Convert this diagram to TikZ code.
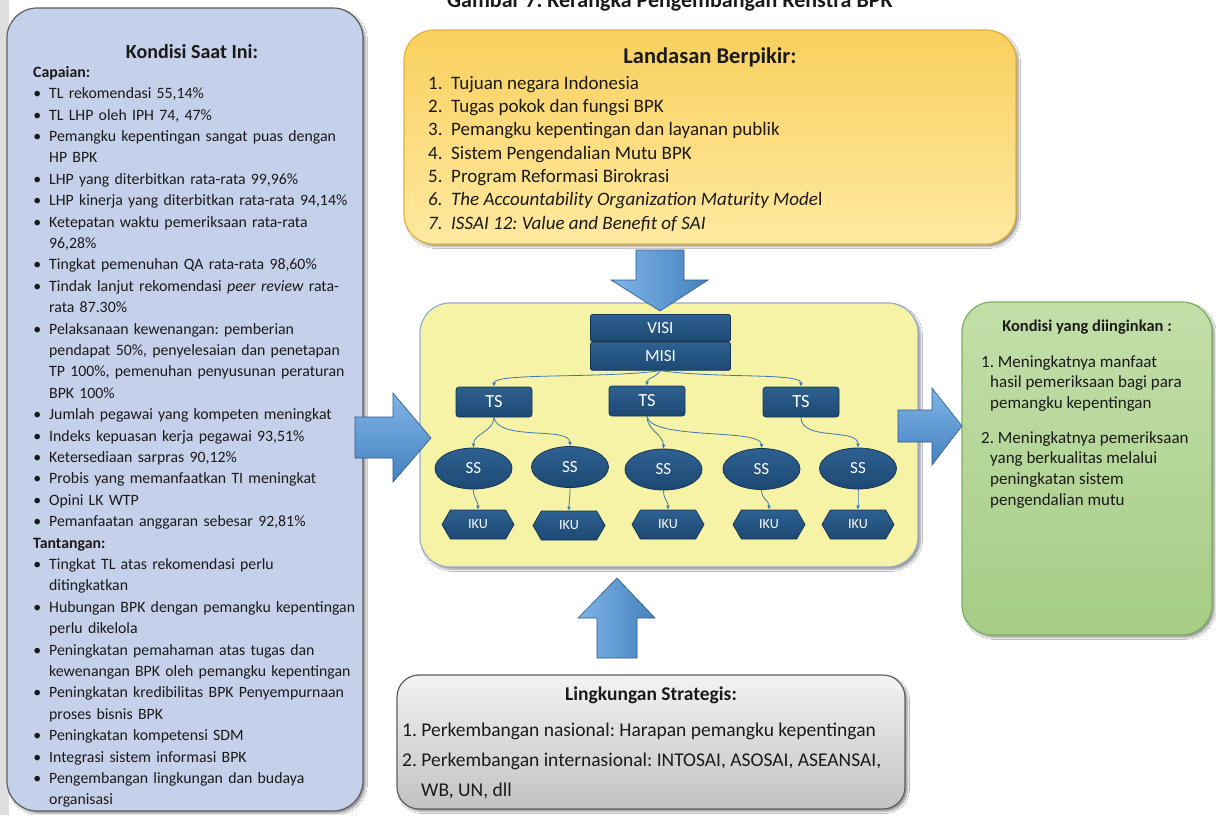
\documentclass[tikz,border=0pt]{standalone}
\usepackage{fontspec}
\setmainfont{Carlito}
\usepackage{xcolor}
\usepackage{tikz}
\usetikzlibrary{positioning,arrows.meta,calc,shapes.geometric,shapes.symbols,shadows.blur}
\frenchspacing
\definecolor{BPKnavy}{HTML}{1D4873}
\definecolor{BPKnavyLight}{HTML}{2E6191}
\definecolor{BPKnavyDark}{HTML}{143654}
\definecolor{BPKlink}{HTML}{3C78B4}
\definecolor{BPKarrow}{HTML}{4682C0}
\definecolor{BPKarrowLight}{HTML}{7EB3E6}
\definecolor{BPKarrowDark}{HTML}{2B5A8A}
\definecolor{BPKslate}{HTML}{C5D1EA}
\definecolor{BPKstrip}{HTML}{DEDEDE}
\definecolor{BPKgold}{HTML}{F9D05E}
\definecolor{BPKgoldLight}{HTML}{FFE9A0}
\definecolor{BPKgoldLine}{HTML}{E2B43A}
\definecolor{BPKlemon}{HTML}{F7F3A6}
\definecolor{BPKlemonLine}{HTML}{93AECB}
\definecolor{BPKgreen}{HTML}{A5CD86}
\definecolor{BPKgreenLight}{HTML}{C3DFAA}
\definecolor{BPKgreenLine}{HTML}{7FAF5E}
\definecolor{BPKgrey}{HTML}{C2C2C2}
\definecolor{BPKgreyLight}{HTML}{F3F3F3}
\definecolor{BPKgreyLine}{HTML}{5E5E5E}
\definecolor{BPKtext}{HTML}{1A1A1A}
\newcommand{\fsz}[2]{\fontsize{#1}{#2}\selectfont}
\newenvironment{kondisilist}{\begin{list}{\textbullet}{\setlength{\leftmargin}{16pt}\setlength{\labelsep}{8pt}\setlength{\labelwidth}{8pt}\setlength{\itemsep}{0pt}\setlength{\parsep}{0pt}\setlength{\topsep}{0pt}\setlength{\partopsep}{0pt}}}{\end{list}}
\tikzset{
  panel/.style={rounded corners=30pt, line width=1.2pt, blur shadow={shadow xshift=2.5pt, shadow yshift=-2.5pt, shadow blur steps=5}},
  kondisibox/.style={panel, draw=BPKgreyLine, fill=BPKslate},
  landasanbox/.style={panel, draw=BPKgoldLine, top color=BPKgold, bottom color=BPKgoldLight},
  tujuanbox/.style={panel, draw=BPKlemonLine, fill=BPKlemon},
  harapanbox/.style={panel, draw=BPKgreenLine, top color=BPKgreenLight, bottom color=BPKgreen},
  strategisbox/.style={panel, rounded corners=22pt, draw=BPKgreyLine, top color=BPKgreyLight, bottom color=BPKgrey},
  paneltitle/.style={font=\bfseries, text=BPKtext, inner sep=0pt},
  paneltext/.style={anchor=north west, align=left, inner sep=0pt, text=BPKtext},
  navybox/.style={draw=BPKnavyDark, top color=BPKnavyLight, bottom color=BPKnavy, text=white, inner sep=0pt, line width=0.8pt},
  visibox/.style={navybox, rectangle, rounded corners=2pt, minimum width=140pt, minimum height=27pt, font=\fsz{17}{20}},
  tsbox/.style={navybox, rectangle, rounded corners=3pt, minimum width=76pt, minimum height=30pt, font=\fsz{18.5}{22}},
  ssbox/.style={navybox, ellipse, minimum width=77pt, minimum height=41pt, font=\fsz{17}{20}},
  ikubox/.style={navybox, signal, signal to=west and east, signal pointer angle=120, minimum width=72pt, minimum height=29pt, font=\fsz{14}{16}},
  treelink/.style={-{Latex[length=4pt,width=4pt]}, line width=0.8pt, draw=BPKlink},
  blockarrow/.style={draw=BPKarrowDark, line width=0.6pt, line join=miter}
}
\begin{document}
\begin{tikzpicture}[x=1pt, y=-1pt]
\useasboundingbox[fill=white] (0,0) rectangle (1216,815);
\fill[BPKstrip] (0,0) rectangle (9,815);
\node[paneltitle, anchor=base west, font=\bfseries\fsz{22}{26}] (gambar) at (447,7) {Gambar 7. Kerangka Pengembangan Renstra BPK};

% boxes
\node[kondisibox, minimum width=356pt, minimum height=803pt] (kondisi) at (185,409.5) {};
\node[landasanbox, minimum width=612pt, minimum height=214pt] (landasan) at (710,137) {};
\node[tujuanbox, minimum width=498pt, minimum height=264pt] (tujuan) at (669,435) {};
\node[harapanbox, minimum width=250pt, minimum height=333pt] (harapan) at (1087,468.5) {};
\node[strategisbox, minimum width=508pt, minimum height=134pt] (strategis) at (651,742) {};

% kondisi saat ini
\node[paneltitle, font=\bfseries\fsz{20}{24}] (kondisiTitle) at (192,52) {Kondisi Saat Ini:};
\node[paneltext, text width=340pt, font=\fsz{15.8}{21.4}] (kondisiText) at (33,66) {%
\textbf{Capaian:}
\begin{kondisilist}
\item TL rekomendasi 55,14\%
\item TL LHP oleh IPH 74, 47\%
\item Pemangku kepentingan sangat puas dengan\newline HP BPK
\item LHP yang diterbitkan rata-rata 99,96\%
\item LHP kinerja yang diterbitkan rata-rata 94,14\%
\item Ketepatan waktu pemeriksaan rata-rata\newline 96,28\%
\item Tingkat pemenuhan QA rata-rata 98,60\%
\item Tindak lanjut rekomendasi \textit{peer review} rata-\newline rata 87.30\%
\item Pelaksanaan kewenangan: pemberian\newline pendapat 50\%, penyelesaian dan penetapan\newline TP 100\%, pemenuhan penyusunan peraturan\newline BPK 100\%
\item Jumlah pegawai yang kompeten meningkat
\item Indeks kepuasan kerja pegawai 93,51\%
\item Ketersediaan sarpras 90,12\%
\item Probis yang memanfaatkan TI meningkat
\item Opini LK WTP
\item Pemanfaatan anggaran sebesar 92,81\%
\end{kondisilist}
\textbf{Tantangan:}
\begin{kondisilist}
\item Tingkat TL atas rekomendasi perlu\newline ditingkatkan
\item Hubungan BPK dengan pemangku kepentingan\newline perlu dikelola
\item Peningkatan pemahaman atas tugas dan\newline kewenangan BPK oleh pemangku kepentingan
\item Peningkatan kredibilitas BPK Penyempurnaan\newline proses bisnis BPK
\item Peningkatan kompetensi SDM
\item Integrasi sistem informasi BPK
\item Pengembangan lingkungan dan budaya\newline organisasi
\end{kondisilist}};

% landasan berpikir
\node[paneltitle, font=\bfseries\fsz{22.5}{26}] (landasanTitle) at (710,57) {Landasan Berpikir:};
\node[paneltext, font=\fsz{19}{23.3}] (landasanText) at (428,76) {%
\makebox[23pt][l]{1.}Tujuan negara Indonesia\\
\makebox[23pt][l]{2.}Tugas pokok dan fungsi BPK\\
\makebox[23pt][l]{3.}Pemangku kepentingan dan layanan publik\\
\makebox[23pt][l]{4.}Sistem Pengendalian Mutu BPK\\
\makebox[23pt][l]{5.}Program Reformasi Birokrasi\\
\textit{\makebox[23pt][l]{6.}The Accountability Organization Maturity Mode}l\\
\textit{\makebox[23pt][l]{7.}ISSAI 12: Value and Benefit of SAI}};

% visi, misi, sasaran
\node[visibox] (visi) at (660.5,328) {VISI};
\node[visibox, minimum height=28pt, below=0pt of visi] (misi) {MISI};
\node[tsbox] (ts1) at (494,402) {TS};
\node[tsbox] (ts2) at (647,401) {TS};
\node[tsbox] (ts3) at (801,402) {TS};
\node[ssbox] (ss1) at (473.5,468.5) {SS};
\node[ssbox] (ss2) at (570,467) {SS};
\node[ssbox] (ss3) at (663.5,469.5) {SS};
\node[ssbox] (ss4) at (761.5,469) {SS};
\node[ssbox] (ss5) at (858,468.5) {SS};
\node[ikubox] (iku1) at (478,524.5) {IKU};
\node[ikubox] (iku2) at (569,525.5) {IKU};
\node[ikubox] (iku3) at (668,524.5) {IKU};
\node[ikubox] (iku4) at (769,524.5) {IKU};
\node[ikubox] (iku5) at (858,524.5) {IKU};

\draw[treelink] (misi.south) .. controls +(-60,8) and +(0,-14) .. (ts1.north);
\draw[treelink] (misi.south) .. controls +(-6,8) and +(0,-8) .. (ts2.north);
\draw[treelink] (misi.south) .. controls +(60,8) and +(0,-14) .. (ts3.north);
\draw[treelink] (ts1.south) .. controls +(0,14) and +(0,-14) .. (ss1.north);
\draw[treelink] (ts1.south) .. controls +(4,24) and +(0,-20) .. (ss2.north);
\draw[treelink] (ts2.south) .. controls +(0,14) and +(0,-14) .. (ss3.north);
\draw[treelink] (ts2.south) .. controls +(4,24) and +(0,-20) .. (ss4.north);
\draw[treelink] (ts3.south) .. controls +(0,24) and +(0,-20) .. (ss5.north);
\foreach \i in {1,...,5}
  \draw[treelink] (ss\i.south) .. controls +(0,10) and +(0,-10) .. (iku\i.north);

% kondisi yang diinginkan
\node[paneltitle, font=\bfseries\fsz{16.5}{20}] (harapanTitle) at (1087,327) {Kondisi yang diinginkan :};
\node[paneltext, font=\fsz{17}{20.7}] (harapanText) at (981,355) {%
1. Meningkatnya manfaat\\
\hspace*{9pt}hasil pemeriksaan bagi para\\
\hspace*{9pt}pemangku kepentingan\\[14pt]
2. Meningkatnya pemeriksaan\\
\hspace*{9pt}yang berkualitas melalui\\
\hspace*{9pt}peningkatan sistem\\
\hspace*{9pt}pengendalian mutu};

% lingkungan strategis
\node[paneltitle, font=\bfseries\fsz{19.5}{23}] (strategisTitle) at (651,695) {Lingkungan Strategis:};
\node[paneltext, font=\fsz{19.5}{30}] (strategisText) at (402,723) {%
1. Perkembangan nasional: Harapan pemangku kepentingan\\
2. Perkembangan internasional: INTOSAI, ASOSAI, ASEANSAI,\\
\hspace*{19pt}WB, UN, dll};

% block arrows
\draw[blockarrow, left color=BPKarrowLight, right color=BPKarrow] (636,250) -- (684,250) -- (684,280) -- (708,280) -- (660,311) -- (611,280) -- (636,280) -- cycle;
\draw[blockarrow, left color=BPKarrowLight, right color=BPKarrow] (597,658) -- (637,658) -- (637,618) -- (655,618) -- (617,578) -- (578,618) -- (597,618) -- cycle;
\draw[blockarrow, top color=BPKarrowLight, bottom color=BPKarrow] (355,417) -- (393,417) -- (393,393) -- (431,438) -- (393,482) -- (393,458) -- (355,458) -- cycle;
\draw[blockarrow, top color=BPKarrowLight, bottom color=BPKarrow] (898,410) -- (932,410) -- (932,388) -- (962,426) -- (932,465) -- (932,442) -- (898,442) -- cycle;
\end{tikzpicture}
\end{document}
